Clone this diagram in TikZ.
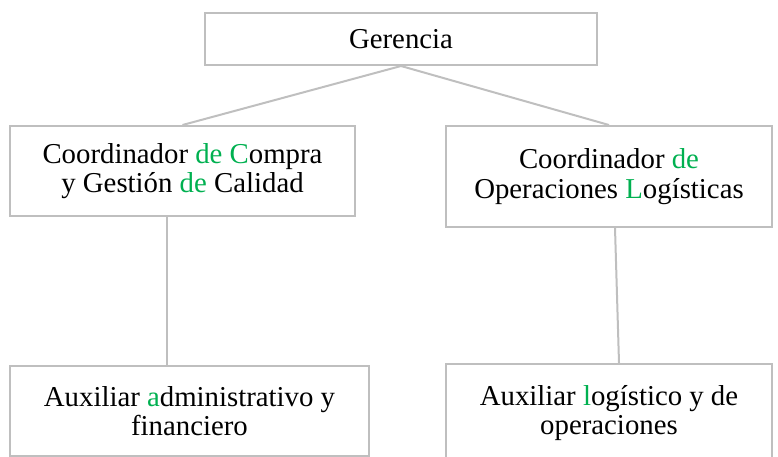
\documentclass[tikz,border=0pt]{standalone}
\usepackage{fontspec}
\setmainfont{Liberation Serif}
\definecolor{verde}{HTML}{00B050}
\definecolor{gris}{HTML}{BFBFBF}
\newcommand{\vd}[1]{\textcolor{verde}{#1}}

\begin{document}
\begin{tikzpicture}[x=1pt,y=-1pt,
	caja/.style={draw=gris, line width=2pt, inner sep=0pt, align=center,
		font=\fontsize{28.8}{29.5}\selectfont},
	linea/.style={draw=gris, line width=2pt}]
	\useasboundingbox (0,0) rectangle (778,456);
	\node[caja, minimum width=392pt, minimum height=52pt] (ger) at (401,39) {Gerencia};
	\node[caja, minimum width=345pt, minimum height=90pt] (cc) at (182.5,171) {Coordinador \vd{de C}ompra\\y Gestión \vd{de} Calidad};
	\node[caja, minimum width=326pt, minimum height=101pt] (col) at (609,176.5) {Coordinador \vd{de}\\Operaciones \vd{L}ogísticas};
	\node[caja, minimum width=359pt, minimum height=90pt] (aux1) at (189.5,411) {Auxiliar \vd{a}dministrativo y\\financiero};
	\node[caja, minimum width=326pt, minimum height=98pt] (aux2) at (609,413) {Auxiliar \vd{l}ogístico y de\\operaciones};
	\draw[linea] (ger.south) -- (cc.north);
	\draw[linea] (ger.south) -- (col.north);
	\draw[linea] ([xshift=-15.5pt]cc.south) -- ([xshift=-15.5pt]cc.south |- aux1.north);
	\draw[linea] ([xshift=6pt]col.south) -- ([xshift=10pt]aux2.north);
\end{tikzpicture}
\end{document}
